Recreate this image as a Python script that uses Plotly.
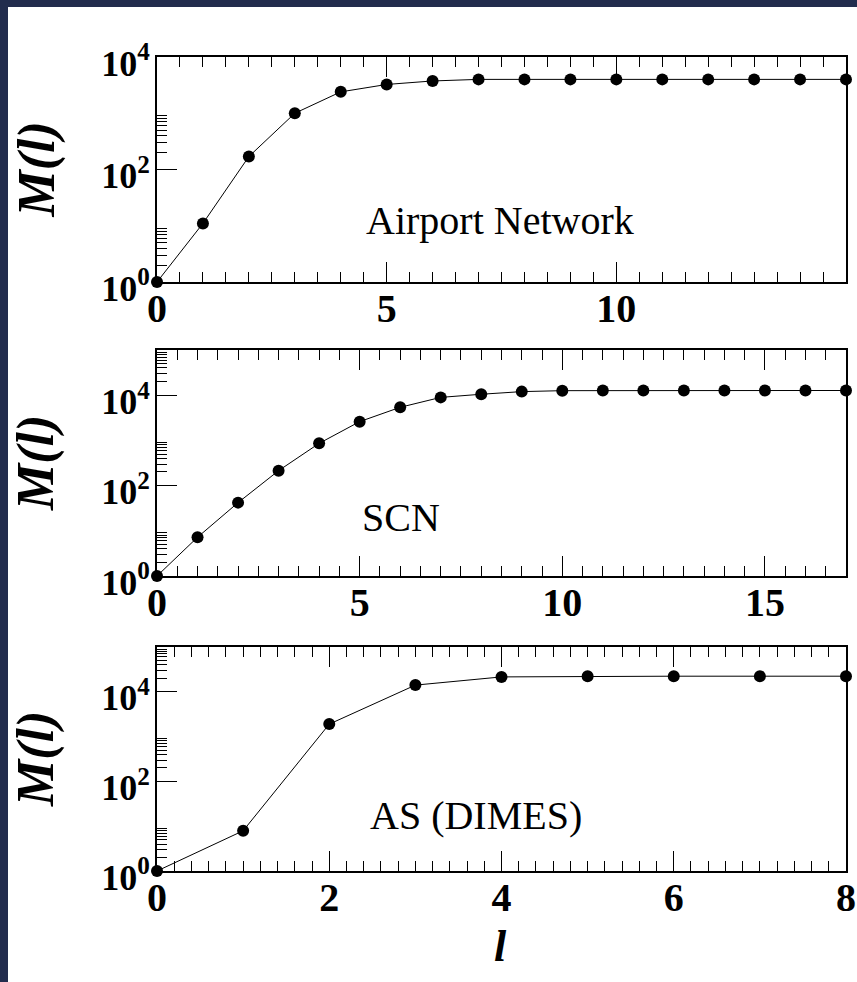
import plotly.graph_objects as go

W, H = 857, 982

# M(l) for each network, one point per shell l
airport_l = list(range(16))
airport_m = [1, 11, 170, 1000, 2400, 3250, 3750, 4000, 4000, 4000,
             4000, 4000, 4000, 4000, 4000, 4000]

scn_l = list(range(18))
scn_m = [1, 7.2, 42, 214, 860, 2600, 5400, 8950, 10500, 12000,
         12600, 12700, 12700, 12700, 12700, 12700, 12700, 12700]

as_l = list(range(9))
as_m = [1, 7.9, 1900, 14100, 21500, 22300, 22300, 22300, 22300]

panel_names = ["Airport Network", "SCN", "AS (DIMES)"]
x_ranges = [[0, 15], [0, 17], [0, 8]]
x_dticks = [5, 5, 2]
x_minor = [0.5, 0.5, 0.2]
y_decades = [4, 5, 5]
y_major = [1, 100, 10000]
y_major_text = ["10<sup>0</sup>", "10<sup>2</sup>", "10<sup>4</sup>"]

# panel boxes in pixels (top, bottom)
boxes = [(57, 282), (350, 576), (647, 871)]
x_left, x_right = 157, 846


def px(x):
    return x / W


def py(y):
    return 1 - y / H


serif = "Liberation Serif"
fig = go.Figure()

series = [(airport_l, airport_m), (scn_l, scn_m), (as_l, as_m)]
for i, (lx, my) in enumerate(series):
    sfx = "" if i == 0 else str(i + 1)
    fig.add_trace(go.Scatter(
        x=lx, y=my, mode="lines+markers",
        line=dict(color="black", width=1),
        marker=dict(color="black", size=12, symbol="circle"),
        cliponaxis=False, showlegend=False,
        xaxis="x" + sfx, yaxis="y" + sfx,
    ))

layout = dict(
    width=W, height=H,
    margin=dict(l=0, r=0, t=0, b=0),
    paper_bgcolor="#222c4d",
    plot_bgcolor="white",
    showlegend=False,
)

annotations = []
for i in range(3):
    sfx = "" if i == 0 else str(i + 1)
    top, bot = boxes[i]
    minor_vals = [k * b for b in (1, 100, 10000) for k in range(2, 10)
                  if k * b < 10 ** y_decades[i]]
    layout["xaxis" + sfx] = dict(
        domain=[px(x_left), px(x_right)],
        range=x_ranges[i], anchor="y" + sfx,
        tick0=0, dtick=x_dticks[i],
        ticks="inside", ticklen=20, tickwidth=1.3, tickcolor="black",
        minor=dict(dtick=x_minor[i], tick0=0, ticks="inside", ticklen=10,
                   tickwidth=1.3, tickcolor="black"),
        showline=True, linewidth=2, linecolor="black", mirror="allticks",
        showgrid=False, zeroline=False, automargin=False,
        ticklabelstandoff=-10,
        tickfont=dict(family=serif, size=40, color="black", weight="bold"),
    )
    layout["yaxis" + sfx] = dict(
        domain=[py(bot), py(top)],
        type="log", range=[0, y_decades[i]], anchor="x" + sfx,
        tickmode="array", tickvals=y_major, ticktext=y_major_text,
        ticks="inside", ticklen=20, tickwidth=1.3, tickcolor="black",
        minor=dict(tickmode="array", tickvals=minor_vals, ticks="inside",
                   ticklen=10, tickwidth=1.3, tickcolor="black"),
        showline=True, linewidth=2, linecolor="black", mirror=True,
        showgrid=False, zeroline=False, automargin=False,
        ticklabelstandoff=-2, ticklabelshift=6,
        tickfont=dict(family=serif, size=36, color="black", weight="bold"),
    )
    # axis title M(l)
    annotations.append(dict(
        x=px(36), y=py((top + bot) / 2), xref="paper", yref="paper",
        text="M(l)", textangle=-90, showarrow=False,
        xanchor="center", yanchor="middle",
        font=dict(family=serif, size=52, color="black", weight="bold",
                  style="italic"),
    ))

label_pos = [(364, 220), (360, 517), (368, 815)]
for name, (lx, ly) in zip(panel_names, label_pos):
    annotations.append(dict(
        x=px(lx), y=py(ly), xref="paper", yref="paper",
        text=name, showarrow=False, xanchor="left", yanchor="middle",
        font=dict(family=serif, size=40, color="black"),
    ))

annotations.append(dict(
    x=px(500), y=py(946), xref="paper", yref="paper",
    text="l", showarrow=False, xanchor="center", yanchor="middle",
    font=dict(family=serif, size=44, color="black", weight="bold",
              style="italic"),
))

layout["annotations"] = annotations
layout["shapes"] = [dict(
    type="rect", xref="paper", yref="paper",
    x0=px(8), x1=1, y0=0, y1=py(7),
    fillcolor="white", line=dict(width=0), layer="below",
)]

fig.update_layout(**layout)
fig.write_html("out.html")
